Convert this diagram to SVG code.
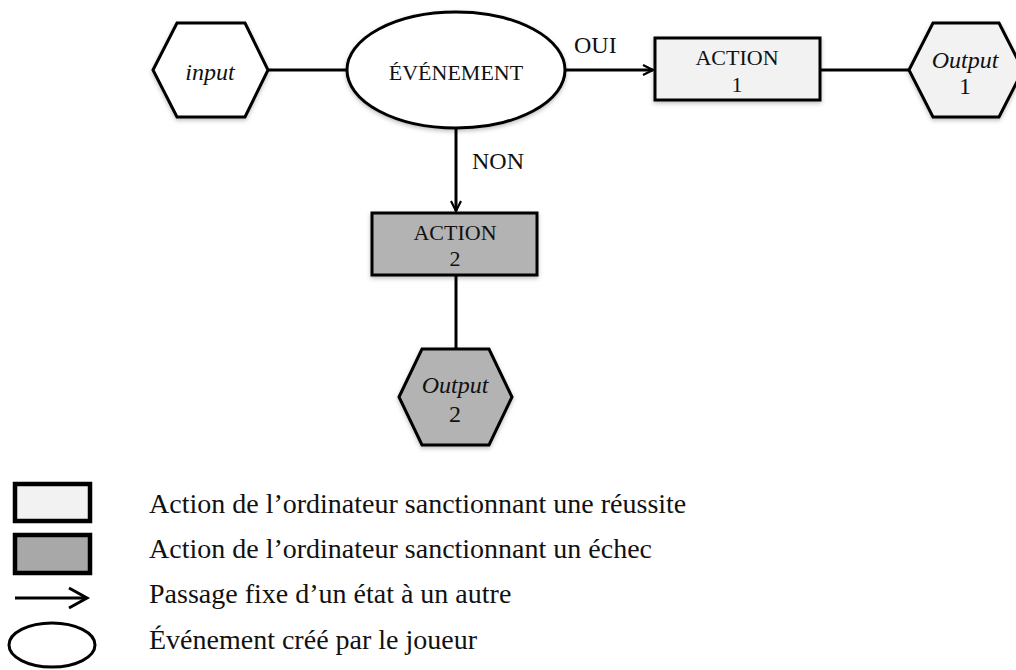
<svg xmlns="http://www.w3.org/2000/svg" width="1016" height="670" viewBox="0 0 1016 670">
<defs>
<style>
.t{font-family:"Liberation Serif","Times New Roman",serif;fill:#111;}
.n{font-size:22px;}
.i{font-size:24px;font-style:italic;}
.d{font-size:24px;font-style:normal;}
.l{font-size:24px;}
.g{font-size:28px;}
.s{stroke:#000;stroke-width:3;}
.light{fill:#f2f2f2;}
.dark{fill:#b3b3b3;}
.ln{stroke:#000;stroke-width:3;fill:none;}
</style>
<filter id="sh" x="-20%" y="-20%" width="140%" height="150%">
<feDropShadow dx="0" dy="2" stdDeviation="2" flood-color="#000" flood-opacity="0.25"/>
</filter>
<marker id="ah" viewBox="0 0 12 12" refX="11" refY="6" markerWidth="12" markerHeight="12" markerUnits="userSpaceOnUse" orient="auto">
<path d="M1,1 L11,6 L1,11" fill="none" stroke="#000" stroke-width="2.2"/>
</marker>
</defs>
<rect width="1016" height="670" fill="#fff"/>

<g id="connectors">
<line class="ln" x1="268" y1="70" x2="347" y2="70"/>
<line class="ln" x1="565" y1="70" x2="653" y2="70" marker-end="url(#ah)"/>
<line class="ln" x1="820" y1="70" x2="909" y2="70"/>
<line class="ln" x1="456" y1="128" x2="456" y2="211" marker-end="url(#ah)"/>
<line class="ln" x1="456" y1="275" x2="456" y2="349"/>
<text class="t l" x="574" y="53">OUI</text>
<text class="t l" x="472" y="169">NON</text>
</g>

<g id="input">
<polygon class="s" fill="#fff" filter="url(#sh)" points="153,70 177,23 245,23 268,70 245,117 177,117"/>
<text class="t i" x="210" y="80" text-anchor="middle">input</text>
</g>

<g id="evenement">
<ellipse class="s" fill="#fff" filter="url(#sh)" cx="456" cy="70" rx="109" ry="58"/>
<text class="t n" x="456" y="80" text-anchor="middle">ÉVÉNEMENT</text>
</g>

<g id="action1">
<rect class="s light" filter="url(#sh)" x="655" y="38" width="165" height="62"/>
<text class="t n" x="737" y="65" text-anchor="middle">ACTION</text>
<text class="t n" x="737" y="92" text-anchor="middle">1</text>
</g>

<g id="output1">
<polygon class="s light" filter="url(#sh)" points="909,70 933,23 999,23 1023,70 999,117 933,117"/>
<text class="t i" x="965" y="68" text-anchor="middle">Output</text>
<text class="t d" x="965" y="94" text-anchor="middle">1</text>
</g>

<g id="action2">
<rect class="s dark" filter="url(#sh)" x="372" y="213" width="165" height="62"/>
<text class="t n" x="455" y="240" text-anchor="middle">ACTION</text>
<text class="t n" x="455" y="266" text-anchor="middle">2</text>
</g>

<g id="output2">
<polygon class="s dark" filter="url(#sh)" points="399,397 422,349 489,349 512,397 489,445 422,445"/>
<text class="t i" x="455" y="393" text-anchor="middle">Output</text>
<text class="t d" x="455" y="422" text-anchor="middle">2</text>
</g>

<g id="legend">
<rect x="15" y="484" width="75" height="37" fill="#f2f2f2" stroke="#000" stroke-width="4.5"/>
<rect x="15" y="535" width="75" height="38" fill="#a8a8a8" stroke="#000" stroke-width="4.5"/>
<line x1="15" y1="598" x2="86" y2="598" stroke="#000" stroke-width="3"/>
<path d="M69,588 L87,598 L69,608" fill="none" stroke="#000" stroke-width="3"/>
<ellipse cx="52" cy="645" rx="43" ry="22" fill="#fff" stroke="#000" stroke-width="3"/>
<text class="t g" x="149" y="513">Action de l’ordinateur sanctionnant une réussite</text>
<text class="t g" x="149" y="558">Action de l’ordinateur sanctionnant un échec</text>
<text class="t g" x="149" y="603">Passage fixe d’un état à un autre</text>
<text class="t g" x="149" y="649">Événement créé par le joueur</text>
</g>
</svg>
